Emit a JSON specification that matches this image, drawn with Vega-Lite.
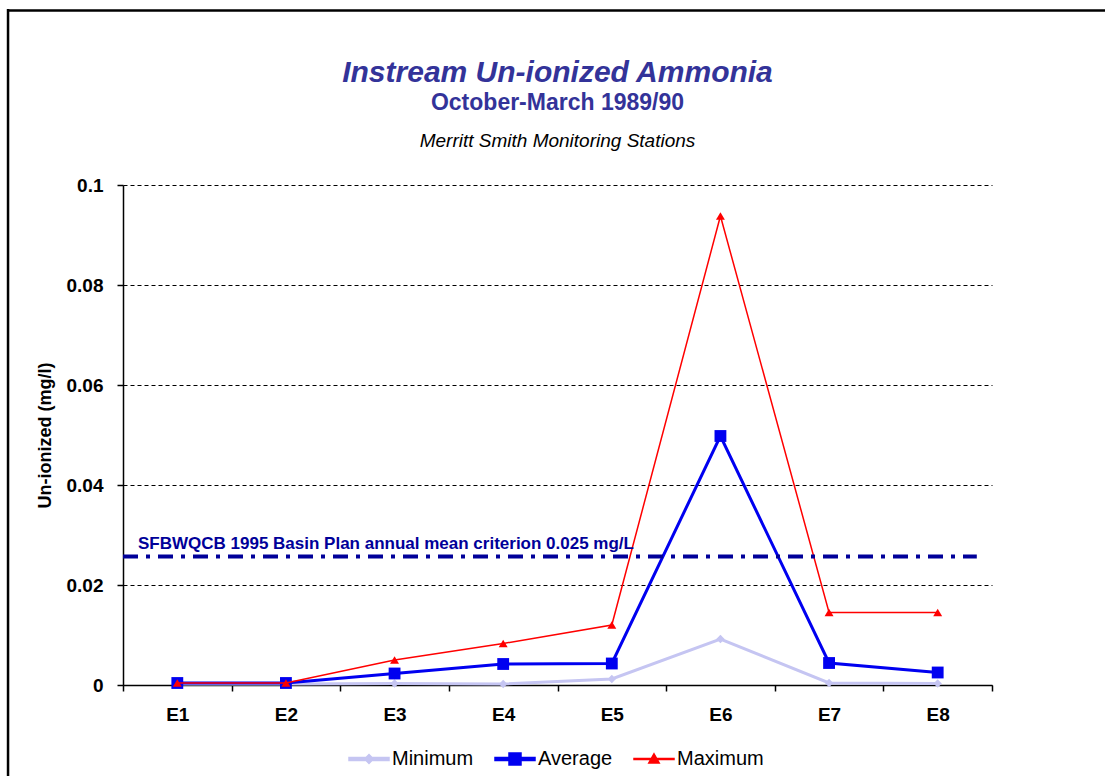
{
  "$schema": "https://vega.github.io/schema/vega-lite/v6.json",
  "width": 869,
  "height": 500,
  "autosize": {"type": "none"},
  "padding": {"left": 123, "top": 185, "right": 113, "bottom": 91},
  "background": "white",
  "config": {"font": "Liberation Sans", "view": {"stroke": null}},
  "title": {
    "text": "Instream Un-ionized Ammonia",
    "subtitle": "October-March 1989/90",
    "anchor": "middle",
    "font": "Liberation Sans",
    "fontSize": 30,
    "fontStyle": "italic",
    "fontWeight": "bold",
    "color": "#333399",
    "subtitleFont": "Liberation Sans",
    "subtitleFontSize": 23,
    "subtitleFontWeight": "bold",
    "subtitleColor": "#333399",
    "subtitlePadding": 4,
    "offset": -107
  },
  "datasets": {
    "ammonia": [
      {"station": "E1", "series": "Minimum", "value": 0.0002},
      {"station": "E2", "series": "Minimum", "value": 0.0002},
      {"station": "E3", "series": "Minimum", "value": 0.0003},
      {"station": "E4", "series": "Minimum", "value": 0.0002},
      {"station": "E5", "series": "Minimum", "value": 0.0012},
      {"station": "E6", "series": "Minimum", "value": 0.0092},
      {"station": "E7", "series": "Minimum", "value": 0.0004},
      {"station": "E8", "series": "Minimum", "value": 0.0003},
      {"station": "E1", "series": "Average", "value": 0.0004},
      {"station": "E2", "series": "Average", "value": 0.0004},
      {"station": "E3", "series": "Average", "value": 0.0023},
      {"station": "E4", "series": "Average", "value": 0.0042},
      {"station": "E5", "series": "Average", "value": 0.0043},
      {"station": "E6", "series": "Average", "value": 0.0498},
      {"station": "E7", "series": "Average", "value": 0.0044},
      {"station": "E8", "series": "Average", "value": 0.0025},
      {"station": "E1", "series": "Maximum", "value": 0.0004},
      {"station": "E2", "series": "Maximum", "value": 0.0004},
      {"station": "E3", "series": "Maximum", "value": 0.0050},
      {"station": "E4", "series": "Maximum", "value": 0.0083},
      {"station": "E5", "series": "Maximum", "value": 0.0120},
      {"station": "E6", "series": "Maximum", "value": 0.0938},
      {"station": "E7", "series": "Maximum", "value": 0.0145},
      {"station": "E8", "series": "Maximum", "value": 0.0145}
    ],
    "criterion": [
      {"label": "SFBWQCB 1995 Basin Plan annual mean criterion 0.025 mg/L", "value": 0.0257}
    ],
    "caption": [
      {"label": "Merritt Smith Monitoring Stations"}
    ]
  },
  "resolve": {"scale": {"x": "independent"}, "axis": {"x": "independent"}},
  "layer": [
    {
      "data": {"name": "caption"},
      "layer": [
        {
          "mark": {"type": "rule", "stroke": "black", "strokeWidth": 2.5},
          "encoding": {
            "x": {"datum": -0.1335, "type": "quantitative", "scale": {"domain": [0, 1], "nice": false, "zero": false}, "axis": null},
            "x2": {"datum": 1.14},
            "y": {"datum": 0.1349, "type": "quantitative"}
          }
        },
        {
          "mark": {"type": "rule", "stroke": "black", "strokeWidth": 2.5},
          "encoding": {
            "x": {"datum": -0.1323, "type": "quantitative"},
            "y": {"datum": 0.1352, "type": "quantitative"},
            "y2": {"datum": -0.02}
          }
        },
        {
          "mark": {"type": "text", "font": "Liberation Sans", "fontSize": 19, "fontStyle": "italic", "color": "black", "align": "center", "baseline": "middle"},
          "encoding": {
            "x": {"datum": 0.5, "type": "quantitative"},
            "y": {"datum": 0.1088, "type": "quantitative"},
            "text": {"field": "label"}
          }
        }
      ]
    },
    {
      "layer": [
        {
          "data": {"name": "ammonia"},
          "transform": [{"filter": "datum.series === 'Minimum'"}],
          "mark": {"type": "line", "strokeWidth": 3},
          "encoding": {
            "x": {
              "field": "station", "type": "nominal",
              "scale": {"domain": ["E1","E2","E3","E4","E5","E6","E7","E8"], "paddingInner": 0, "paddingOuter": 0},
              "axis": {
                "orient": "bottom",
                "title": null, "labelAngle": 0, "labelFont": "Liberation Sans", "labelFontSize": 19, "labelFontWeight": "bold",
                "labelColor": "black", "labelPadding": 14, "tickBand": "extent", "tickSize": 6, "tickColor": "black",
                "domainColor": "black", "domainWidth": 1.5, "tickWidth": 1.5, "grid": false
              }
            },
            "y": {
              "field": "value", "type": "quantitative",
              "scale": {"domain": [0, 0.1], "nice": false},
              "axis": {
                "title": "Un-ionized (mg/l)", "titleFont": "Liberation Sans", "titleFontSize": 18, "titleFontWeight": "bold",
                "titleColor": "black", "titlePadding": 12,
                "values": [0, 0.02, 0.04, 0.06, 0.08, 0.1], "format": "~g",
                "labelFont": "Liberation Sans", "labelFontSize": 19, "labelFontWeight": "bold", "labelColor": "black",
                "labelPadding": 14, "tickSize": 6, "tickColor": "black", "tickWidth": 1.5,
                "domainColor": "black", "domainWidth": 1.5,
                "grid": true, "gridColor": "black", "gridDash": [4, 3], "gridWidth": 1, "gridOpacity": 1
              }
            },
            "color": {
              "field": "series", "type": "nominal",
              "scale": {"domain": ["Minimum", "Average", "Maximum"], "range": ["#C5C5F2", "#0000F0", "#FF0000"]},
              "legend": {
                "orient": "none", "legendX": 225, "legendY": 553, "direction": "horizontal",
                "title": null, "labelFont": "Liberation Sans", "labelFontSize": 20, "labelColor": "black",
                "symbolSize": 1600, "columnPadding": 18, "labelOffset": 2,
                "encode": {
                  "symbols": {
                    "update": {
                      "shape": {"signal": "datum.value === 'Average' ? 'M-1,-0.075H1V0.075H-1Z M-0.3,-0.3H0.3V0.3H-0.3Z' : datum.value === 'Maximum' ? 'M-1,-0.03H1V0.03H-1Z M0,-0.26L0.26,0.2H-0.26Z' : 'M-1,-0.075H1V0.075H-1Z M0,-0.22L0.22,0L0,0.22L-0.22,0Z'"},
                      "fill": {"signal": "datum.value === 'Average' ? '#0000F0' : datum.value === 'Maximum' ? '#FF0000' : '#C5C5F2'"},
                      "stroke": {"value": "transparent"},
                      "opacity": {"value": 1},
                      "fillOpacity": {"value": 1}
                    }
                  }
                }
              }
            }
          }
        },
        {
          "data": {"name": "ammonia"},
          "transform": [{"filter": "datum.series === 'Minimum'"}],
          "mark": {"type": "point", "shape": "diamond", "filled": true, "size": 70, "opacity": 1},
          "encoding": {
            "x": {"field": "station", "type": "nominal"},
            "y": {"field": "value", "type": "quantitative"},
            "color": {"field": "series", "type": "nominal"}
          }
        },
        {
          "data": {"name": "ammonia"},
          "transform": [{"filter": "datum.series === 'Average'"}],
          "mark": {"type": "line", "strokeWidth": 3},
          "encoding": {
            "x": {"field": "station", "type": "nominal"},
            "y": {"field": "value", "type": "quantitative"},
            "color": {"field": "series", "type": "nominal"}
          }
        },
        {
          "data": {"name": "ammonia"},
          "transform": [{"filter": "datum.series === 'Average'"}],
          "mark": {"type": "point", "shape": "square", "filled": true, "size": 140, "opacity": 1},
          "encoding": {
            "x": {"field": "station", "type": "nominal"},
            "y": {"field": "value", "type": "quantitative"},
            "color": {"field": "series", "type": "nominal"}
          }
        },
        {
          "data": {"name": "ammonia"},
          "transform": [{"filter": "datum.series === 'Maximum'"}],
          "mark": {"type": "line", "strokeWidth": 1.5},
          "encoding": {
            "x": {"field": "station", "type": "nominal"},
            "y": {"field": "value", "type": "quantitative"},
            "color": {"field": "series", "type": "nominal"}
          }
        },
        {
          "data": {"name": "ammonia"},
          "transform": [{"filter": "datum.series === 'Maximum'"}],
          "mark": {"type": "point", "shape": "triangle-up", "filled": true, "size": 80, "opacity": 1},
          "encoding": {
            "x": {"field": "station", "type": "nominal"},
            "y": {"field": "value", "type": "quantitative"},
            "color": {"field": "series", "type": "nominal"}
          }
        },
        {
          "data": {"name": "criterion"},
          "mark": {"type": "rule", "stroke": "#000099", "strokeWidth": 4, "strokeDash": [15, 8, 4, 8]},
          "encoding": {
            "x": {"datum": "E1", "type": "nominal", "bandPosition": 0},
            "x2": {"datum": "E8", "bandPosition": 0.86},
            "y": {"field": "value", "type": "quantitative"}
          }
        },
        {
          "data": {"name": "criterion"},
          "mark": {"type": "text", "font": "Liberation Sans", "fontSize": 17, "fontWeight": "bold", "color": "#000099", "align": "left", "baseline": "alphabetic", "dx": 15, "dy": -8},
          "encoding": {
            "x": {"datum": "E1", "type": "nominal", "bandPosition": 0},
            "y": {"field": "value", "type": "quantitative"},
            "text": {"field": "label"}
          }
        }
      ]
    }
  ]
}
